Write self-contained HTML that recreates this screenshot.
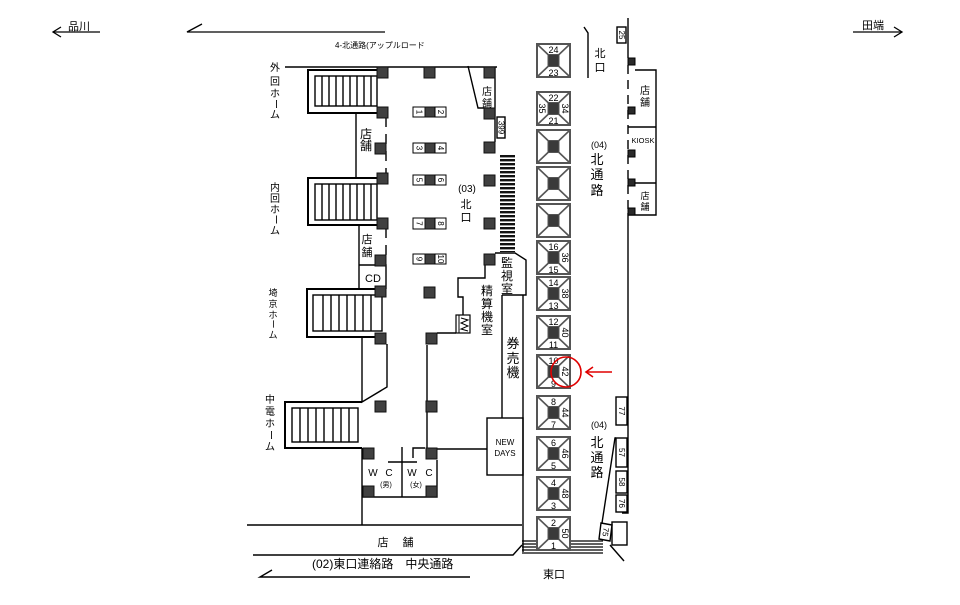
<!DOCTYPE html>
<html><head><meta charset="utf-8"><style>
html,body{margin:0;padding:0;background:#fff;}
svg{display:block;}
text{font-family:"Liberation Sans","Noto Sans CJK JP",sans-serif;fill:#000;}
.p{fill:#404040;stroke:#111;stroke-width:1;}
.q{fill:#2a2a2a;stroke:#000;stroke-width:1;}
.nb{fill:#fff;stroke:#000;stroke-width:1;}
</style></head><body>
<svg width="960" height="605" viewBox="0 0 960 605" xmlns="http://www.w3.org/2000/svg">
<defs>
<pattern id="st" x="0" y="155" width="16" height="4" patternUnits="userSpaceOnUse"><rect width="16" height="2.4" fill="#111"/></pattern>
<g id="esc">
 <rect x="0" y="0" width="33" height="33" fill="#fff" stroke="#555" stroke-width="2"/>
 <path d="M1,1 L11.5,11 M32,1 L21.5,11 M1,32 L11.5,22 M32,32 L21.5,22" stroke="#555" stroke-width="1.6" fill="none"/>
 <rect x="11" y="10.5" width="11" height="12" fill="#3a3a3a" stroke="#555" stroke-width="1"/>
</g>
</defs>

<!-- top arrows -->
<g stroke="#000" stroke-width="1.3" fill="none">
 <path d="M53,32 H100"/>
 <path d="M61,27 L53,32 L61,37"/>
 <path d="M202,24 L187,32 H385"/>
 <path d="M853,32 H902"/>
 <path d="M894,27 L902,32 L894,37"/>
</g>
<text x="68" y="30" font-size="11">品川</text>
<text x="862" y="29" font-size="11">田端</text>
<text x="335" y="48" font-size="8">4-北通路(アップルロード</text>

<!-- main structure lines -->
<g stroke="#000" stroke-width="1.4" fill="none">
 <path d="M285,67 H497"/>
 <!-- stair 1 -->
 <path d="M378,70 H308 V113 H378" stroke-width="2"/>
 <rect x="315" y="76" width="62" height="30"/>
 <path d="M322,76V106 M329,76V106 M336,76V106 M343,76V106 M350,76V106 M357,76V106 M364,76V106 M371,76V106"/>
 <!-- stair 2 -->
 <path d="M383,178 H308 V225 H383" stroke-width="2"/>
 <rect x="315" y="184" width="62" height="36"/>
 <path d="M322,184V220 M329,184V220 M336,184V220 M343,184V220 M350,184V220 M357,184V220 M364,184V220 M371,184V220"/>
 <!-- stair 3 -->
 <path d="M380,289 H307 V337 H380" stroke-width="2"/>
 <rect x="313" y="295" width="69" height="36"/>
 <path d="M323,295V331 M331,295V331 M339,295V331 M347,295V331 M355,295V331 M363,295V331 M371,295V331"/>
 <!-- stair 4 -->
 <path d="M362,402 H285 V448 H362" stroke-width="2"/>
 <rect x="292" y="408" width="66" height="34"/>
 <path d="M300,408V442 M308,408V442 M316,408V442 M324,408V442 M333,408V442 M341,408V442 M349,408V442"/>

 <path d="M356,113 V178"/>
 <path d="M359,225 V289"/>
 <path d="M359,265 H386 V289"/>
 <path d="M386,117 V173" stroke-dasharray="10,7"/>
 <path d="M386,228 V256" stroke-dasharray="10,7"/>
 <path d="M362,337 V402 L387,387 V344"/>
 <path d="M362,448 V525"/>
 <!-- WC -->
 <path d="M362,497 H437 V460"/>
 <path d="M402,447 V497"/>
 <path d="M388,462 H417"/>
 <path d="M413,458 V448 H425"/>
 <path d="M437,449 H487"/>
 <path d="M427,345 V449"/>
 <path d="M437,333 H456"/>
 <path d="M463,315 V297 H458 V278 H485 V265"/>
 <!-- 監視室 / 券売機 -->
 <path d="M495,253 H515 L526,260 V295 H502"/>
 <path d="M502,295 V418"/>
 <path d="M523,295 V552"/>
 <rect x="487" y="418" width="36" height="57"/>
 <!-- upper right of hall -->
 <path d="M495,67 V142"/>
 <path d="M468,66 L478,108 H485"/>
 <rect x="497" y="117" width="8" height="21"/>
 <!-- bottom -->
 <path d="M247,525 H522"/>
 <path d="M253,555 H513 L522,545"/>
 <path d="M272,570 L260,577 H470"/>
 <!-- escalator icon -->
 <rect x="456" y="315" width="14" height="18" stroke-width="1.2"/>
 <path d="M459,315 V333" stroke-width="1"/>
 <path d="M461,318 L468,320 L461,323 L468,326 L461,329 L468,331" stroke-width="1"/>

 <!-- right side -->
 <path d="M584,27 L588,33 V78"/>
 <path d="M628,18 V58"/>
 <path d="M628,65 V210" stroke-dasharray="9,6"/>
 <path d="M628,213 V513 H622"/>
 <path d="M635,70 H656 V215 H628"/>
 <path d="M628,127 H656"/>
 <path d="M635,183 H656"/>
 <rect x="617" y="27" width="9" height="16"/>
 <rect x="616" y="397" width="11" height="28"/>
 <rect x="616" y="438" width="11" height="29"/>
 <rect x="616" y="471" width="11" height="22"/>
 <rect x="616" y="495" width="11" height="17"/>
 <path d="M616,438 H615 L602,523"/>
 <polygon points="601,523 612,525 610,541 599,539" fill="#fff"/>
 <rect x="612" y="522" width="15" height="23"/>
 <path d="M610,545 L624,561"/>
 <path d="M522,541 H603 M522,544 H603 M522,547 H603 M522,550 H603 M522,553 H603" stroke-width="1.2"/>
</g>

<!-- escalator stripes -->
<rect x="500" y="155" width="15" height="97" fill="url(#st)"/>

<!-- pillars -->
<g>
 <rect class="p" x="377" y="67" width="11" height="11"/>
 <rect class="p" x="377" y="107" width="11" height="11"/>
 <rect class="p" x="375" y="143" width="11" height="11"/>
 <rect class="p" x="377" y="173" width="11" height="11"/>
 <rect class="p" x="377" y="218" width="11" height="11"/>
 <rect class="p" x="375" y="255" width="11" height="11"/>
 <rect class="p" x="375" y="286" width="11" height="11"/>
 <rect class="p" x="375" y="333" width="11" height="11"/>
 <rect class="p" x="375" y="401" width="11" height="11"/>
 <rect class="p" x="363" y="448" width="11" height="11"/>
 <rect class="p" x="363" y="486" width="11" height="11"/>
 <rect class="p" x="426" y="448" width="11" height="11"/>
 <rect class="p" x="426" y="486" width="11" height="11"/>
 <rect class="p" x="424" y="67" width="11" height="11"/>
 <rect class="p" x="424" y="287" width="11" height="11"/>
 <rect class="p" x="426" y="333" width="11" height="11"/>
 <rect class="p" x="426" y="401" width="11" height="11"/>
 <rect class="p" x="484" y="67" width="11" height="11"/>
 <rect class="p" x="484" y="108" width="11" height="11"/>
 <rect class="p" x="484" y="142" width="11" height="11"/>
 <rect class="p" x="484" y="175" width="11" height="11"/>
 <rect class="p" x="484" y="218" width="11" height="11"/>
 <rect class="p" x="484" y="254" width="11" height="11"/>
 <!-- numbered pillar rows -->
 <rect class="nb" x="413" y="107" width="12" height="10"/><rect class="p" x="425" y="107" width="10" height="10"/><rect class="nb" x="435" y="107" width="11" height="10"/>
 <rect class="nb" x="413" y="143" width="12" height="10"/><rect class="p" x="425" y="143" width="10" height="10"/><rect class="nb" x="435" y="143" width="11" height="10"/>
 <rect class="nb" x="413" y="175" width="12" height="10"/><rect class="p" x="425" y="175" width="10" height="10"/><rect class="nb" x="435" y="175" width="11" height="10"/>
 <rect class="nb" x="413" y="218" width="12" height="11"/><rect class="p" x="425" y="218" width="10" height="11"/><rect class="nb" x="435" y="218" width="11" height="11"/>
 <rect class="nb" x="413" y="254" width="12" height="10"/><rect class="p" x="425" y="254" width="10" height="10"/><rect class="nb" x="435" y="254" width="11" height="10"/>
 <!-- right wall pillars -->
 <rect class="q" x="628" y="58" width="7" height="7"/>
 <rect class="q" x="628" y="107" width="7" height="7"/>
 <rect class="q" x="628" y="150" width="7" height="7"/>
 <rect class="q" x="628" y="179" width="7" height="7"/>
 <rect class="q" x="628" y="208" width="7" height="7"/>
</g>

<!-- pillar numbers -->
<g font-size="8" text-anchor="middle" dominant-baseline="central">
 <text transform="translate(419,112) rotate(90)">1</text><text transform="translate(440.5,112) rotate(90)">2</text>
 <text transform="translate(419,148) rotate(90)">3</text><text transform="translate(440.5,148) rotate(90)">4</text>
 <text transform="translate(419,180) rotate(90)">5</text><text transform="translate(440.5,180) rotate(90)">6</text>
 <text transform="translate(419,223.5) rotate(90)">7</text><text transform="translate(440.5,223.5) rotate(90)">8</text>
 <text transform="translate(419,259) rotate(90)">9</text><text transform="translate(440.5,259) rotate(90)">10</text>
 <text transform="translate(501,127.5) rotate(90)">399</text>
 <text transform="translate(621.5,35) rotate(90)">25</text>
 <text transform="translate(621.5,411) rotate(90)">77</text>
 <text transform="translate(621.5,452.5) rotate(90)">57</text>
 <text transform="translate(621.5,482) rotate(90)">58</text>
 <text transform="translate(621.5,503.5) rotate(90)">76</text>
 <text transform="translate(605.5,532) rotate(98)">75</text>
</g>

<!-- escalator boxes -->
<use href="#esc" x="537" y="44"/>
<use href="#esc" x="537" y="92"/>
<use href="#esc" x="537" y="130"/>
<use href="#esc" x="537" y="167"/>
<use href="#esc" x="537" y="204"/>
<use href="#esc" x="537" y="241"/>
<use href="#esc" x="537" y="277"/>
<use href="#esc" x="537" y="316"/>
<use href="#esc" x="537" y="355"/>
<use href="#esc" x="537" y="396"/>
<use href="#esc" x="537" y="437"/>
<use href="#esc" x="537" y="477"/>
<use href="#esc" x="537" y="517"/>
<g font-size="9" text-anchor="middle">
 <text x="553.5" y="53">24</text><text x="553.5" y="76">23</text>
 <text x="553.5" y="101">22</text><text x="553.5" y="124">21</text>
 <text x="553.5" y="250">16</text><text x="553.5" y="273">15</text>
 <text x="553.5" y="286">14</text><text x="553.5" y="309">13</text>
 <text x="553.5" y="325">12</text><text x="553.5" y="348">11</text>
 <text x="553.5" y="364">10</text><text x="553.5" y="387">9</text>
 <text x="553.5" y="405">8</text><text x="553.5" y="428">7</text>
 <text x="553.5" y="446">6</text><text x="553.5" y="469">5</text>
 <text x="553.5" y="486">4</text><text x="553.5" y="509">3</text>
 <text x="553.5" y="526">2</text><text x="553.5" y="549">1</text>
</g>
<g font-size="9" text-anchor="middle" dominant-baseline="central">
 <text transform="translate(542,108.5) rotate(90)">35</text>
 <text transform="translate(565,108.5) rotate(90)">34</text>
 <text transform="translate(565,257.5) rotate(90)">36</text>
 <text transform="translate(565,293.5) rotate(90)">38</text>
 <text transform="translate(565,332.5) rotate(90)">40</text>
 <text transform="translate(565,371.5) rotate(90)">42</text>
 <text transform="translate(565,412.5) rotate(90)">44</text>
 <text transform="translate(565,453.5) rotate(90)">46</text>
 <text transform="translate(565,493.5) rotate(90)">48</text>
 <text transform="translate(565,533.5) rotate(90)">50</text>
</g>

<!-- left labels -->
<g font-size="10" text-anchor="middle">
 <text x="275" y="71">外</text><text x="275" y="85">回</text><text x="275" y="97">ホ</text>
 <text transform="translate(275,104) rotate(90)" dominant-baseline="central">ー</text>
 <text x="275" y="118">ム</text>
 <text x="275" y="191">内</text><text x="275" y="202">回</text><text x="275" y="213">ホ</text>
 <text transform="translate(275,219.5) rotate(90)" dominant-baseline="central">ー</text>
 <text x="275" y="234">ム</text>
 <text x="270" y="403">中</text><text x="270" y="415">電</text><text x="270" y="427">ホ</text>
 <text transform="translate(270,435) rotate(90)" dominant-baseline="central">ー</text>
 <text x="270" y="450">ム</text>
</g>
<g font-size="9" text-anchor="middle">
 <text x="273" y="296">埼</text><text x="273" y="307">京</text><text x="273" y="318">ホ</text>
 <text transform="translate(273,324) rotate(90)" dominant-baseline="central">ー</text>
 <text x="273" y="338">ム</text>
</g>

<!-- hall texts -->
<g text-anchor="middle">
 <text x="366" y="138" font-size="12">店</text><text x="366" y="150" font-size="12">舗</text>
 <text x="367" y="243" font-size="11">店</text><text x="367" y="256" font-size="11">舗</text>
 <text x="373" y="282" font-size="11">CD</text>
 <text x="487" y="95" font-size="10">店</text><text x="487" y="107" font-size="10">舗</text>
 <text x="467" y="192" font-size="10">(03)</text>
 <text x="466" y="208" font-size="11">北</text><text x="466" y="221" font-size="11">口</text>
 <text x="507" y="267" font-size="12">監</text><text x="507" y="280" font-size="12">視</text><text x="507" y="293" font-size="12">室</text>
 <text x="487" y="295" font-size="12">精</text><text x="487" y="308" font-size="12">算</text><text x="487" y="321" font-size="12">機</text><text x="487" y="334" font-size="12">室</text>
 <text x="513" y="348" font-size="13">券</text><text x="513" y="363" font-size="13">売</text><text x="513" y="377" font-size="13">機</text>
 <text x="505" y="445" font-size="8">NEW</text><text x="505" y="456" font-size="8">DAYS</text>
 <text x="373" y="476" font-size="10">W</text><text x="389" y="476" font-size="10">C</text>
 <text x="386" y="487" font-size="7">(男)</text>
 <text x="412" y="476" font-size="10">W</text><text x="429" y="476" font-size="10">C</text>
 <text x="416" y="487" font-size="7">(女)</text>
 <text x="383" y="546" font-size="11">店</text><text x="408" y="546" font-size="11">舗</text>
 <text x="554" y="578" font-size="11">東口</text>
 <!-- right -->
 <text x="600" y="57" font-size="11">北</text><text x="600" y="71" font-size="11">口</text>
 <text x="599" y="148" font-size="9">(04)</text>
 <text x="597" y="164" font-size="13">北</text><text x="597" y="179" font-size="13">通</text><text x="597" y="195" font-size="13">路</text>
 <text x="599" y="428" font-size="9">(04)</text>
 <text x="597" y="447" font-size="13">北</text><text x="597" y="462" font-size="13">通</text><text x="597" y="477" font-size="13">路</text>
 <text x="645" y="94" font-size="10">店</text><text x="645" y="106" font-size="10">舗</text>
 <text x="643" y="143" font-size="7.5">KIOSK</text>
 <text x="645" y="199" font-size="9">店</text><text x="645" y="210" font-size="9">舗</text>
</g>
<text x="312" y="568" font-size="12">(02)東口連絡路　中央通路</text>

<!-- red marker -->
<circle cx="566" cy="372" r="15" fill="none" stroke="#e00000" stroke-width="1.6"/>
<g stroke="#e00000" stroke-width="1.6" fill="none">
 <path d="M586,372 H612"/>
 <path d="M593,367 L586,372 L593,377"/>
</g>
</svg>
</body></html>
